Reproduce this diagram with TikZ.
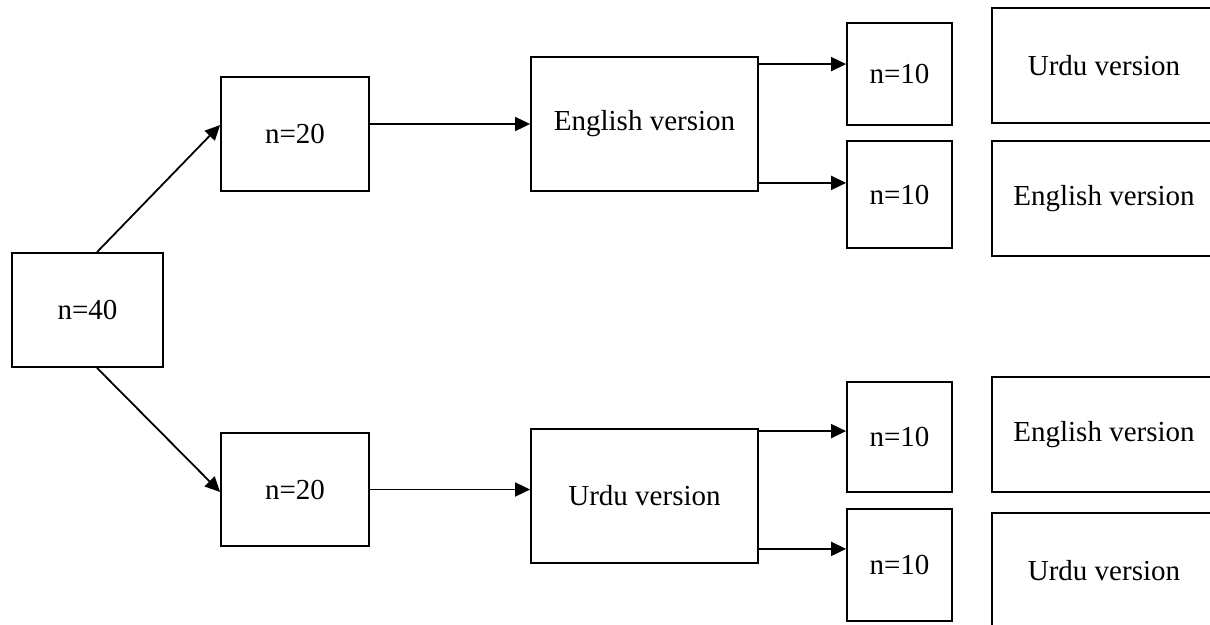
\documentclass[tikz,border=0pt]{standalone}
\usepackage{fontspec}
\setmainfont{Liberation Serif}
\usetikzlibrary{arrows.meta,calc}
\begin{document}
\begin{tikzpicture}[x=1pt,y=-1pt,
  box/.style={draw=black, line width=1.8pt, inner sep=0pt, align=center,
    font=\fontsize{29}{35}\selectfont},
  link/.style={draw=black, line width=1.8pt, -{Triangle[length=15pt,width=14pt]}}]
\useasboundingbox (0,0) rectangle (1210,624);
\clip (0,0) rectangle (1210,624);

% sample and its two halves
\node[box, minimum width=151pt, minimum height=114pt] (root) at (87.5,310) {n=40};
\node[box, minimum width=148pt, minimum height=114pt] (half1) at (295,134) {n=20};
\node[box, minimum width=148pt, minimum height=113pt] (half2) at (295,489.5) {n=20};

% first questionnaire version
\node[box, minimum width=227pt, minimum height=134pt] (engA) at (644.5,124) {English version};
\node[box, minimum width=227pt, minimum height=134pt] (urdA) at (644.5,496) {Urdu version};

% quarter groups
\node[box, minimum width=105pt, minimum height=102pt] (q1) at (899.5,74) {n=10};
\node[box, minimum width=105pt, minimum height=107pt] (q2) at (899.5,194.5) {n=10};
\node[box, minimum width=105pt, minimum height=110pt] (q3) at (899.5,437) {n=10};
\node[box, minimum width=105pt, minimum height=112pt] (q4) at (899.5,565) {n=10};

% second questionnaire version
\node[box, minimum width=224pt, minimum height=115pt] (urdB1) at (1104,65.5) {Urdu version};
\node[box, minimum width=224pt, minimum height=115pt] (engB1) at (1104,198.5) {English version};
\node[box, minimum width=224pt, minimum height=115pt] (engB2) at (1104,434.5) {English version};
\node[box, minimum width=224pt, minimum height=115pt] (urdB2) at (1104,570.5) {Urdu version};

% connectors
\draw[link] ([xshift=9.5pt]root.north) -- ([yshift=9pt]half1.west);
\draw[link] ([xshift=9.5pt]root.south) -- ([yshift=-2.5pt]half2.west);
\draw[link] (half1.east |- engA.west) -- (engA.west);
\draw[link] (half2.east) -- (urdA.west |- half2.east);
\draw[link] ($(engA.north east)+(0,8)$) -- ($(engA.north east -| q1.west)+(0,8)$);
\draw[link] ($(engA.south east)+(0,-9)$) -- ($(engA.south east -| q2.west)+(0,-9)$);
\draw[link] ($(urdA.north east)+(0,3)$) -- ($(urdA.north east -| q3.west)+(0,3)$);
\draw[link] ($(urdA.south east)+(0,-15)$) -- ($(urdA.south east -| q4.west)+(0,-15)$);
\end{tikzpicture}
\end{document}
